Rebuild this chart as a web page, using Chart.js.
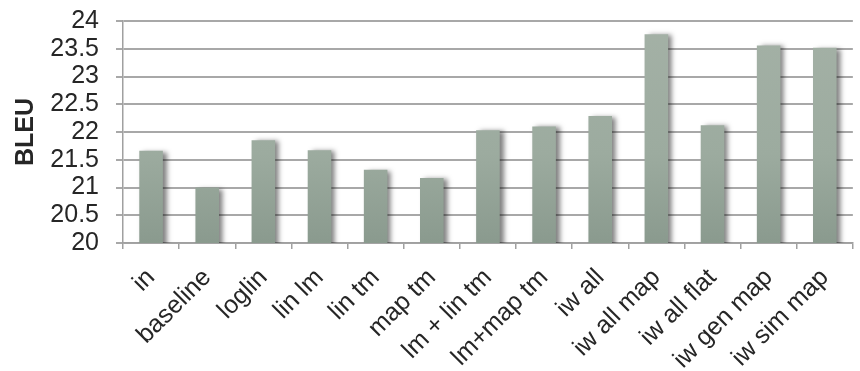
<!DOCTYPE html>
<html>
<head>
<meta charset="utf-8">
<script src="https://cdn.jsdelivr.net/npm/chart.js@4.4.0/dist/chart.umd.min.js"></script>
<style>
    html, body { margin: 0; padding: 0; background: #fff; overflow: hidden; }
    #wrap { width: 860px; height: 382px; margin-top: -11px; }
</style>
</head>
<body>
<div id="wrap"><canvas id="grafico"></canvas></div>
<script>
const categorias = ['in', 'baseline', 'loglin', 'lin lm', 'lin tm', 'map tm', 'lm + lin tm', 'lm+map tm', 'iw all', 'iw all map', 'iw all flat', 'iw gen map', 'iw sim map'];
const bleu = [21.66, 21.0, 21.85, 21.67, 21.32, 21.17, 22.03, 22.1, 22.29, 23.76, 22.12, 23.56, 23.52];
const yMin = 20;
const yMax = 24;
const yPaso = 0.5;

// sombra a la derecha de las barras
const sombra = {
    id: 'sombra',
    beforeDatasetsDraw(chart) {
        let ctx = chart.ctx;
        ctx.save();
        ctx.shadowColor = 'rgba(0,0,0,0.5)';
        ctx.shadowBlur = 5;
        ctx.shadowOffsetX = 4;
        ctx.shadowOffsetY = 1;
    },
    afterDatasetsDraw(chart) {
        chart.ctx.restore();
    }
};

function degradado(context) {
    let area = context.chart.chartArea;
    if (!area) return '#9aa89d';
    let g = context.chart.ctx.createLinearGradient(0, area.top, 0, area.bottom);
    g.addColorStop(0, '#a4b1a6');
    g.addColorStop(0.6, '#9cab9f');
    g.addColorStop(1, '#8a9a8e');
    return g;
}

let canvasGrafico = document.getElementById('grafico');
let chartGrafico = new Chart(canvasGrafico, {
    type: 'bar',
    data: {
        labels: categorias,
        datasets: [{
            label: 'BLEU',
            data: bleu,
            backgroundColor: degradado,
            borderWidth: 0,
            categoryPercentage: 0.84,
            barPercentage: 0.5
        }]
    },
    options: {
        responsive: true,
        maintainAspectRatio: false,
        animation: false,
        layout: { autoPadding: false, padding: { top: 10, right: 0, left: 0, bottom: 0 } },
        plugins: {
            legend: { display: false },
            tooltip: { enabled: false }
        },
        scales: {
            x: {
                afterFit: (scale) => { scale.height = 128; },
                grid: {
                    display: true,
                    drawOnChartArea: false,
                    drawTicks: true,
                    tickLength: 6,
                    offset: true,
                    color: '#a0a0a0',
                    lineWidth: 1.5
                },
                border: { color: '#a0a0a0', width: 1.5 },
                ticks: {
                    autoSkip: false,
                    minRotation: 45,
                    maxRotation: 45,
                    padding: 14,
                    color: '#262626',
                    font: { family: 'Liberation Sans, Arial', size: 25 }
                }
            },
            y: {
                min: yMin,
                max: yMax,
                afterFit: (scale) => { scale.width = 123; },
                grid: {
                    color: '#a8a8a8',
                    lineWidth: 2,
                    tickLength: 7
                },
                border: { color: '#a0a0a0', width: 1.5 },
                ticks: {
                    stepSize: yPaso,
                    autoSkip: false,
                    padding: 17,
                    color: '#262626',
                    font: { family: 'Liberation Sans, Arial', size: 25 },
                    callback: (v) => String(v)
                },
                title: {
                    display: true,
                    text: 'BLEU',
                    color: '#262626',
                    padding: { top: 11, bottom: 0 },
                    font: { family: 'Liberation Sans, Arial', size: 25, weight: 'bold' }
                }
            }
        }
    },
    plugins: [sombra]
});
</script>
</body>
</html>
